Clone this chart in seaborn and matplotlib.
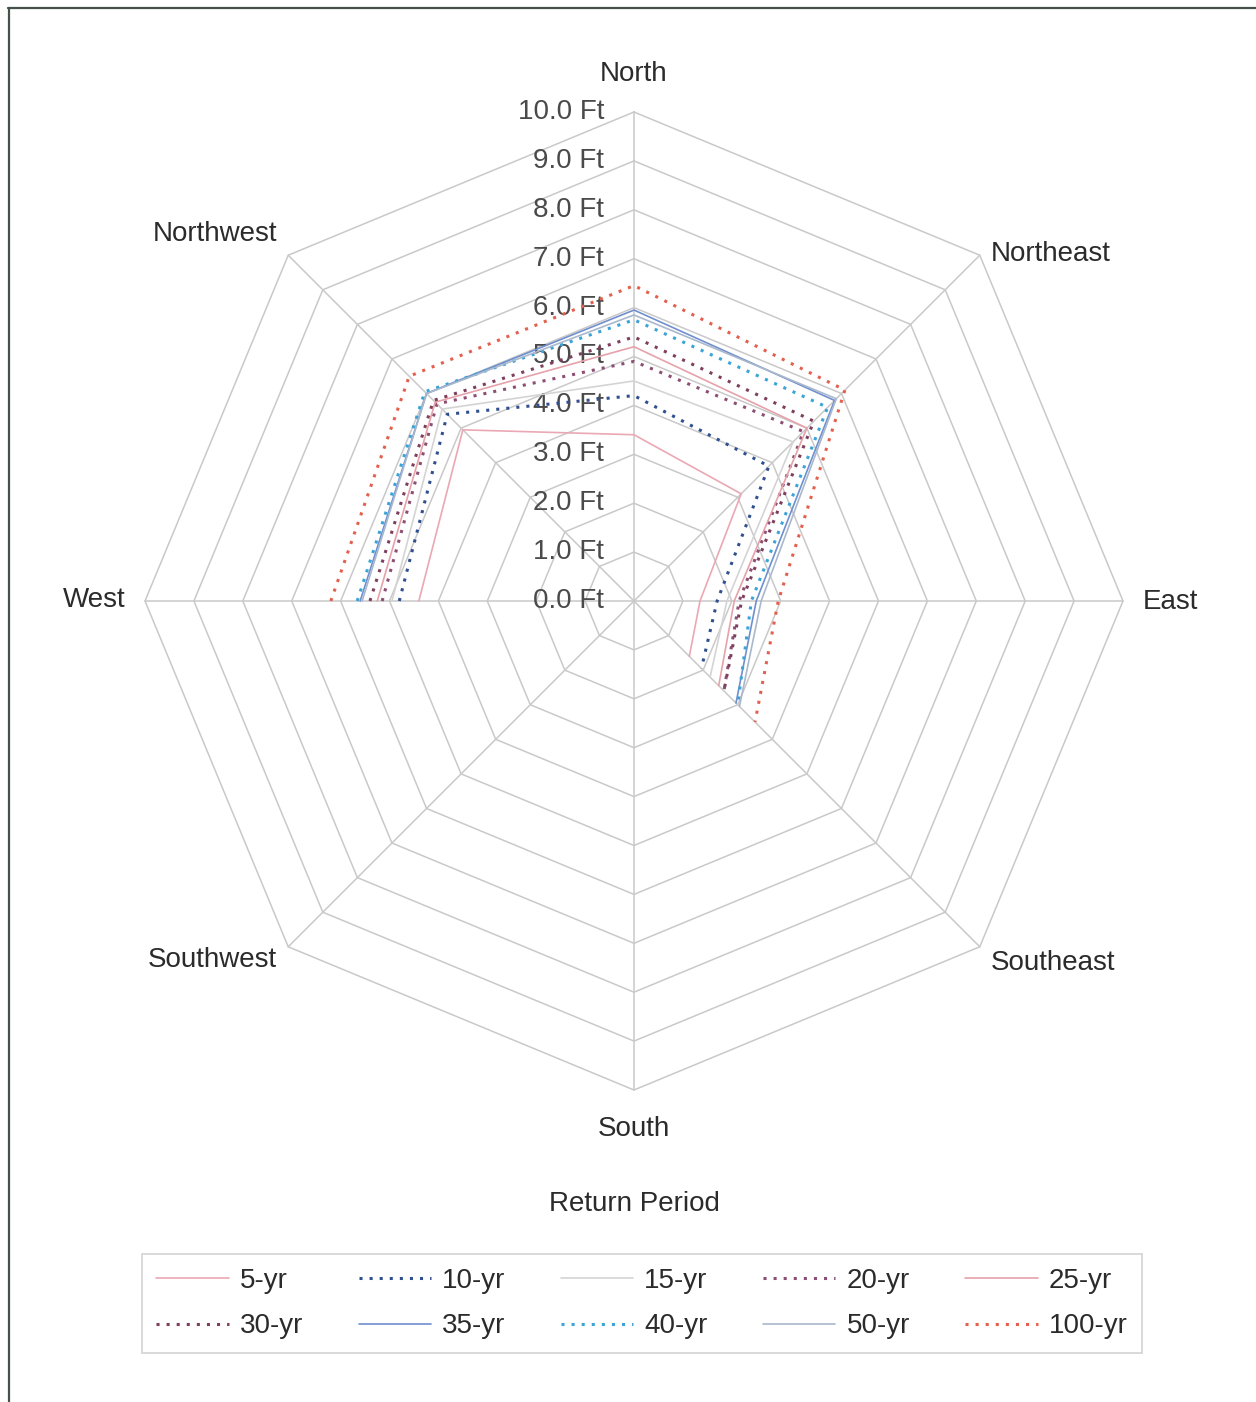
import numpy as np
import pandas as pd
import matplotlib
matplotlib.use("Agg")
import matplotlib.pyplot as plt
from matplotlib.lines import Line2D
import seaborn as sns

sns.set_theme(style="white")
plt.rcParams["font.family"] = ["Liberation Sans", "DejaVu Sans"]

# Directions, clockwise from north (degrees)
directions = ["North", "Northeast", "East", "Southeast", "South", "Southwest", "West", "Northwest"]
angles_deg = [0, 45, 90, 135, 180, 225, 270, 315]

# Wave height (ft) per return period; South and Southwest have no data
# order: North, Northeast, East, Southeast, South, Southwest, West, Northwest
yr5 = [3.4, 3.1, 1.35, 1.6, None, None, 4.4, 4.95]
yr10 = [4.2, 3.9, 1.7, 1.95, None, None, 4.8, 5.4]
yr15 = [4.5, 4.6, 1.9, 2.2, None, None, 4.95, 5.55]
yr20 = [4.9, 4.9, 2.15, 2.6, None, None, 5.15, 5.7]
yr25 = [5.2, 5.0, 2.05, 2.45, None, None, 5.25, 5.75]
yr30 = [5.4, 5.2, 2.2, 2.6, None, None, 5.4, 5.8]
yr35 = [5.95, 5.8, 2.5, 2.95, None, None, 5.6, 6.0]
yr40 = [5.75, 5.6, 2.4, 3.0, None, None, 5.66, 6.05]
yr50 = [5.85, 5.85, 2.6, 3.05, None, None, 5.56, 6.0]
yr100 = [6.45, 6.1, 2.95, 3.5, None, None, 6.2, 6.5]

series_names = ["5-yr", "10-yr", "15-yr", "20-yr", "25-yr", "30-yr", "35-yr", "40-yr", "50-yr", "100-yr"]
series_values = [yr5, yr10, yr15, yr20, yr25, yr30, yr35, yr40, yr50, yr100]

tick_values = [0, 1, 2, 3, 4, 5, 6, 7, 8, 9, 10]
tick_labels = [f"{v:.1f} Ft" for v in tick_values]

colors = {
    "5-yr": "#eaa8b4", "10-yr": "#2f4f8f", "15-yr": "#d4d4d4", "20-yr": "#8c4f73",
    "25-yr": "#e6a2aa", "30-yr": "#7e3f5c", "35-yr": "#6f8fcf", "40-yr": "#3aa4d6",
    "50-yr": "#a9b8cc", "100-yr": "#e4604e",
}
dotted = {"10-yr", "20-yr", "30-yr", "40-yr", "100-yr"}
DOT = (0, (1, 2.3))
FS = 20

# Figure and an equal-scale axes centred on the chart origin
W, H = 1256, 1402
fig = plt.figure(figsize=(W / 100, H / 100), dpi=100)
fig.patch.set_facecolor("white")
scale = 48.9  # px per ft
cx, cy = 634, 601
half = 11 * scale
ax = fig.add_axes([(cx - half) / W, (H - cy - half) / H, 2 * half / W, 2 * half / H])
ax.set_xlim(-11, 11)
ax.set_ylim(-11, 11)
ax.set_aspect("equal")
ax.axis("off")

theta = np.deg2rad(angles_deg)
grid_color = "#c9c9c9"

# Octagonal grid rings and spokes
for v in tick_values[1:]:
    xs = [v * np.sin(t) for t in theta] + [v * np.sin(theta[0])]
    ys = [v * np.cos(t) for t in theta] + [v * np.cos(theta[0])]
    ax.plot(xs, ys, color=grid_color, lw=1.1, zorder=1)
for t in theta:
    ax.plot([0, 10 * np.sin(t)], [0, 10 * np.cos(t)], color=grid_color, lw=1.1, zorder=1)

# Radial axis labels along the North spoke
for v, lab in zip(tick_values, tick_labels):
    ax.text(-30 / scale, v, lab, ha="right", va="center", fontsize=FS, color="#4a4a4a", zorder=2)

# Direction labels
label_pos = {
    "North": (0, 10.77, "center", "center"),
    "Northeast": (7.3, 7.3 - 0.2, "left", "center"),
    "East": (10.4, -0.02, "left", "center"),
    "Southeast": (7.3, -7.3 - 0.1, "left", "center"),
    "South": (0, -10.8, "center", "center"),
    "Southwest": (-7.3, -7.3 - 0.05, "right", "center"),
    "West": (-10.4, 0.02, "right", "center"),
    "Northwest": (-7.3, 7.3 + 0.2, "right", "center"),
}
for d in directions:
    x, y, ha, va = label_pos[d]
    ax.text(x, y, d, ha=ha, va=va, fontsize=FS, color="#2b2b2b")

# Series: missing directions break the ring, so trace West -> Southeast
path_order = [6, 7, 0, 1, 2, 3]
styles = {}
for name, vals in zip(series_names, series_values):
    rows = []
    for step, i in enumerate(path_order):
        r = vals[i]
        rows.append({"step": step, "dir": directions[i], "r": r,
                     "x": r * np.sin(theta[i]), "y": r * np.cos(theta[i])})
    df = pd.DataFrame(rows)
    ls = DOT if name in dotted else "-"
    lw = 2.2 if name in dotted else 1.2
    styles[name] = (ls, lw)
    sns.lineplot(data=df, x="x", y="y", sort=False, estimator=None, ax=ax,
                 color=colors[name], linestyle=ls, linewidth=lw, label=name, zorder=3)

ax.set_xlim(-11, 11)
ax.set_ylim(-11, 11)
if ax.get_legend() is not None:
    ax.get_legend().remove()

# Legend: two rows of five
order = ["5-yr", "30-yr", "10-yr", "35-yr", "15-yr", "40-yr", "20-yr", "50-yr", "25-yr", "100-yr"]
handles = [Line2D([], [], color=colors[n], linestyle=styles[n][0], linewidth=styles[n][1]) for n in order]
leg = fig.legend(handles, order, ncol=5, loc="center",
                 bbox_to_anchor=(642 / W, 1 - 1303.5 / H), fontsize=FS,
                 frameon=True, fancybox=False, edgecolor="#c8c8c8",
                 handlelength=2.6, handletextpad=0.4, columnspacing=2.0, labelspacing=0.7,
                 borderpad=0.5)
leg.get_frame().set_linewidth(1.2)
for t in leg.get_texts():
    t.set_color("#2b2b2b")

fig.text(634 / W, 1 - 1204 / H, "Return Period", ha="center", va="center", fontsize=FS, color="#2b2b2b")

# Page frame lines
fig.add_artist(Line2D([8 / W, 1.0], [1 - 8 / H, 1 - 8 / H], transform=fig.transFigure, color="#45524a", lw=1.6))
fig.add_artist(Line2D([9 / W, 9 / W], [1 - 8 / H, 0], transform=fig.transFigure, color="#45524a", lw=1.6))

fig.savefig("out.png", dpi=100, facecolor="white")
